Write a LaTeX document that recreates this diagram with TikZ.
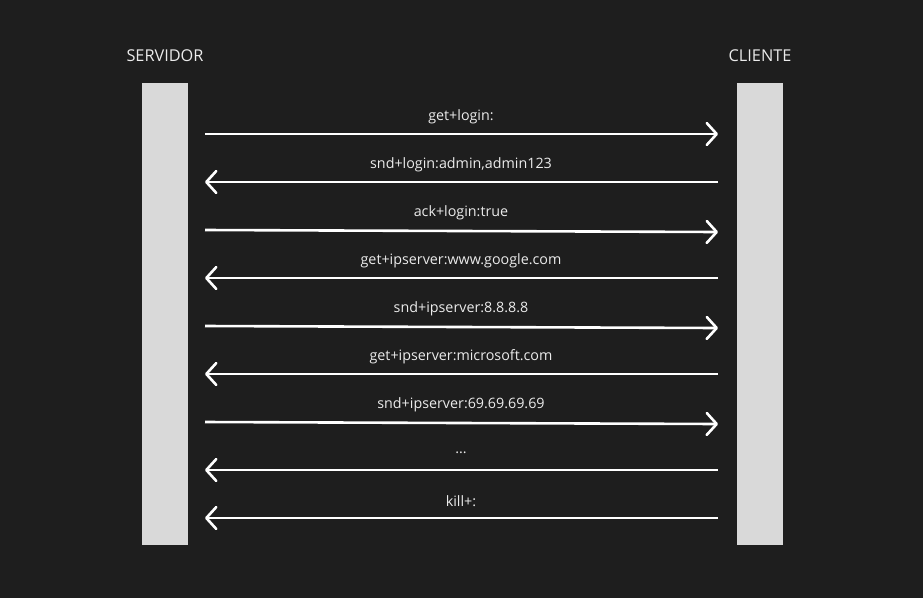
\documentclass[tikz,border=0pt]{standalone}
\usepackage{fontspec}
\setmainfont{Open Sans}
\usetikzlibrary{arrows.meta}
\definecolor{bg}{HTML}{1E1E1E}
\definecolor{barc}{HTML}{D9D9D9}
\begin{document}
\begin{tikzpicture}[x=1pt,y=-1pt,
  lifebar/.style={fill=barc,draw=none},
  actor/.style={text=white!92!black,font=\fontsize{16.3}{18}\selectfont,inner sep=0pt},
  msglabel/.style={text=white!92!black,font=\fontsize{14.3}{16}\selectfont,inner sep=0pt},
  msg/.style={draw=white,line width=2.6pt,-{Straight Barb[length=10pt,width=22pt,line cap=round,line join=round]}}]
\fill[bg] (0,0) rectangle (923,598);
\useasboundingbox (0,0) rectangle (923,598);
\fill[lifebar] (142,83) rectangle (188,545);
\fill[lifebar] (737,83) rectangle (783,545);
\node[actor] (srv) at (165,56) {SERVIDOR};
\node[actor] (cli) at (760,56) {CLIENTE};
% endpoints
\foreach \i/\ya/\yb in {1/134/134,2/182/182,3/230/232,4/278/278,5/326/328,6/374/374,7/422/424,8/470/470,9/518/518}{
  \coordinate (l\i) at (205,\ya);
  \coordinate (r\i) at (718,\yb);
}
\node[msglabel] (m1) at (461,117) {get+login:};
\node[msglabel] (m2) at (461,165) {snd+login:admin,admin123};
\node[msglabel] (m3) at (461,213) {ack+login:true};
\node[msglabel] (m4) at (461,261) {get+ipserver:www.google.com};
\node[msglabel] (m5) at (461,309) {snd+ipserver:8.8.8.8};
\node[msglabel] (m6) at (461,357) {get+ipserver:microsoft.com};
\node[msglabel] (m7) at (461,405) {snd+ipserver:69.69.69.69};
\node[msglabel] (m8) at (461,453) {...};
\node[msglabel] (m9) at (461,501) {kill+:};
\draw[msg] (l1) -- (r1);
\draw[msg] (r2) -- (l2);
\draw[msg] (l3) -- (r3);
\draw[msg] (r4) -- (l4);
\draw[msg] (l5) -- (r5);
\draw[msg] (r6) -- (l6);
\draw[msg] (l7) -- (r7);
\draw[msg] (r8) -- (l8);
\draw[msg] (r9) -- (l9);
\end{tikzpicture}
\end{document}
